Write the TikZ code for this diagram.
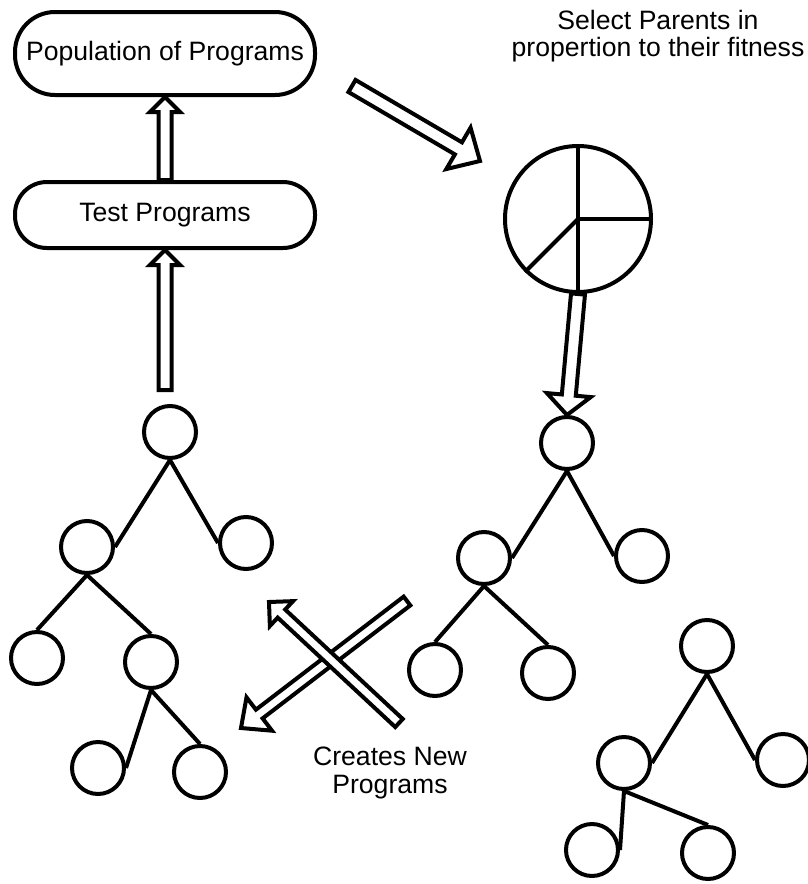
\documentclass[tikz,border=0pt]{standalone}
\usepackage{fontspec}
\setmainfont{Liberation Sans}
\usetikzlibrary{calc}

\begin{document}
\begin{tikzpicture}[x=0.5pt, y=-0.5pt, line width=2pt,
		every node/.style={font=\fontsize{13.3}{13.6}\selectfont},
		box/.style={draw, minimum width=150pt, align=center},
		tnode/.style={draw, circle, minimum size=26pt, inner sep=0pt},
		blockarr/.style={draw, fill=white, line join=miter}]
	\useasboundingbox (0,0) rectangle (808,884);
	% boxes and texts
	\node[box, rounded corners=20pt, minimum height=41.5pt] (pop) at (165,53.5) {Population of Programs};
	\node[box, rounded corners=16pt, minimum height=33pt] (test) at (165,215) {Test Programs};
	\node[align=center] (sel) at (658,36.5) {Select Parents in\\propertion to their fitness};
	\node[align=center] (new) at (390,773) {Creates New\\Programs};
	% roulette wheel
	\node[draw, circle, minimum size=73pt, inner sep=0pt] (pie) at (578,219) {};
	\draw (pie.north) -- (pie.south);
	\draw (pie.center) -- (pie.east);
	\draw (pie.center) -- (pie.225);
	% trees
	\foreach \n/\x/\y in {l0/170/432, l1/87/547, l2/246/543, l3/37/658, l4/151/662, l5/98/768, l6/200/772,
		r0/567/443, r1/484/558, r2/642/556, r3/435/670, r4/548/673,
		c0/707/646, c1/624/763, c2/783/760, c3/592/850, c4/708/853}
		\node[tnode] (\n) at (\x,\y) {};
	\foreach \a/\b in {l0.south/l1.east, l0.south/l2.west, l1.south/l3.north, l1.south/l4.north,
		l4.south/l5.east, l4.south/l6.north,
		r0.south/r1.east, r0.south/r2.west, r1.south/r3.north, r1.south/r4.north,
		c0.south/c1.east, c0.south/c2.west, c1.south/c3.east, c1.south/c4.north}
		\draw (\a) -- (\b);
	% hollow arrows
	\coordinate (t2) at (165,390);
	\coordinate (t3) at (352,86);
	\coordinate (p3) at (480,161);
	\coordinate (tB) at (407,601);
	\coordinate (pB) at (241,728);
	\coordinate (tA) at (399,723);
	\coordinate (pA) at (269,602);
	\foreach \src/\dst/\sw/\hw/\hl in {test.north/pop.south/3.25pt/7.5pt/7.5pt, t2/test.south/3.25pt/7.5pt/7.5pt,
		t3/p3/3.5pt/12pt/12.5pt, pie.south/r0.north/3.5pt/11pt/10pt,
		tB/pB/2.75pt/10.5pt/11.5pt, tA/pA/2.75pt/8.5pt/8.5pt} {
		\coordinate (hb) at ($(\dst)!\hl!(\src)$);
		\draw[blockarr] ($(\src)!\sw!90:(\dst)$) -- ($(hb)!\sw!90:(\dst)$) -- ($(hb)!\hw!90:(\dst)$) -- (\dst)
			-- ($(hb)!\hw!-90:(\dst)$) -- ($(hb)!\sw!-90:(\dst)$) -- ($(\src)!\sw!-90:(\dst)$) -- cycle;
	}
\end{tikzpicture}
\end{document}
